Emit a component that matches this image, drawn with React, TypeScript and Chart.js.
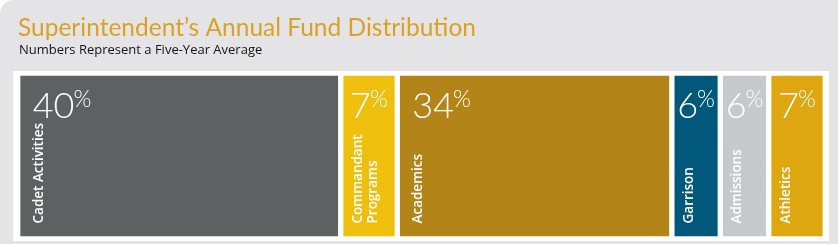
import { useEffect, useRef } from "react";
import { Chart, registerables } from "chart.js";

Chart.register(...registerables);

const TITLE = "Superintendent’s Annual Fund Distribution";
const SUBTITLE = "Numbers Represent a Five-Year Average";
const categories = ["Cadet Activities", "Commandant\nPrograms", "Academics", "Garrison", "Admissions", "Athletics"];
const shares = [40, 7, 34, 6, 6, 7];
const colors = ["#5f6062", "#efbf0d", "#b38418", "#01587a", "#c7c8cc", "#dea60f"];

const panelPlugin = {
  id: "panel",
  beforeDatasetsDraw(chart: any) {
    const { ctx, chartArea: a } = chart;
    ctx.save();
    ctx.fillStyle = "#ffffff";
    ctx.fillRect(a.left - 4.4, a.top, a.width + 8.1, a.height);
    ctx.restore();
  },
};

const textPlugin = {
  id: "texts",
  afterDraw(chart: any) {
    const { ctx } = chart;
    ctx.save();
    ctx.textAlign = "left";
    ctx.textBaseline = "alphabetic";
    ctx.fillStyle = "#d9a226";
    ctx.font = '400 24.5px Lato, "Open Sans", sans-serif';
    ctx.fillText(TITLE, 18, 36);
    ctx.fillStyle = "#141414";
    ctx.font = '500 13px "Open Sans", sans-serif';
    ctx.fillText(SUBTITLE, 19, 54);

    categories.forEach((cat, i) => {
      const el = chart.getDatasetMeta(i).data[0];
      const { x, base, y, height } = el.getProps(["x", "base", "y", "height"], true);
      const left = Math.min(x, base) + 3;
      const right = Math.max(x, base) - 3;
      const top = y - height / 2 + 5;
      const bottom = y + height / 2 - 5;
      const w = right - left;
      const wide = w > 150;

      // number
      const digits = String(shares[i]);
      const numFont = '300 36px Lato, "Open Sans", sans-serif';
      const pctFont = '300 23px Lato, "Open Sans", sans-serif';
      ctx.fillStyle = "#ffffff";
      ctx.font = numFont;
      const dw = ctx.measureText(digits).width;
      ctx.font = pctFont;
      const pw = ctx.measureText("%").width;
      const gap = -1;
      const total = dw + gap + pw;
      const nx = wide ? left + 12 : left + (w - total) / 2;
      const baseline = top + 42;
      ctx.font = numFont;
      ctx.fillText(digits, nx, baseline);
      ctx.font = pctFont;
      ctx.fillText("%", nx + dw + gap, baseline - 11);

      // label
      const lines = cat.split("\n");
      const pad = wide ? 12 : 8;
      ctx.font = '600 13.5px "Open Sans", Lato, sans-serif';
      lines.forEach((line, j) => {
        ctx.save();
        ctx.translate(left + pad + 10 + j * 15.3, bottom - 12.5);
        ctx.rotate(-Math.PI / 2);
        ctx.fillText(line, 0, 0);
        ctx.restore();
      });
    });
    ctx.restore();
  },
};

export default function App() {
  const ref = useRef<HTMLCanvasElement | null>(null);
  useEffect(() => {
    if (!ref.current) return;
    const chart = new Chart(ref.current, {
      type: "bar",
      data: {
        labels: [""],
        datasets: categories.map((c, i) => ({
          label: c.replace("\n", " "),
          data: [shares[i]],
          backgroundColor: colors[i],
          borderColor: "#ffffff",
          borderWidth: { top: 5, bottom: 5, left: 3, right: 3 },
          borderSkipped: false,
          barPercentage: 1,
          categoryPercentage: 1,
        })),
      },
      options: {
        indexAxis: "y",
        responsive: false,
        animation: false,
        layout: { padding: { left: 17.7, right: 12.7, top: 71, bottom: 3 } },
        scales: {
          x: { stacked: true, min: 0, max: 100, display: false },
          y: { stacked: true, display: false },
        },
        plugins: {
          legend: { display: false },
          tooltip: { enabled: false },
          title: { display: false },
        },
      },
      plugins: [panelPlugin, textPlugin],
    } as any);
    return () => chart.destroy();
  }, []);
  return (
    <div
      style={{
        position: "absolute",
        left: 0,
        top: 0,
        width: 838,
        height: 244,
        background: "#e4e4e6",
        borderTopLeftRadius: 14,
        overflow: "hidden",
      }}
    >
      <canvas ref={ref} width={838} height={244} style={{ display: "block" }} />
    </div>
  );
}
